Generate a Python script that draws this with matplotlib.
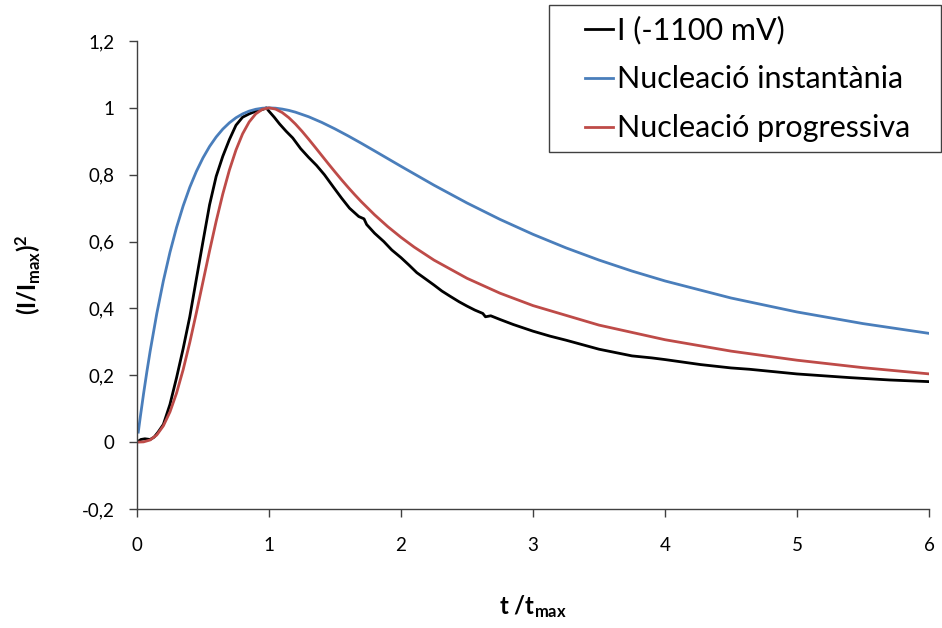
import matplotlib
matplotlib.use("Agg")
import matplotlib.pyplot as plt
from matplotlib.patches import Rectangle

# ---- data ----
t_exp = [0, 0.03, 0.06, 0.1, 0.13, 0.16, 0.2, 0.25, 0.3, 0.35, 0.4, 0.45, 0.5, 0.55,
         0.6, 0.65, 0.7, 0.75, 0.8, 0.85, 0.9, 0.95, 0.98, 1.0, 1.04, 1.08, 1.13,
         1.18, 1.24, 1.3, 1.36, 1.42, 1.49, 1.55, 1.61, 1.68, 1.72, 1.74, 1.8, 1.87,
         1.93, 2.0, 2.06, 2.12, 2.18, 2.25, 2.31, 2.37, 2.44, 2.5, 2.56, 2.62, 2.64,
         2.68, 2.75, 2.85, 3.0, 3.13, 3.25, 3.5, 3.75, 3.9, 4.0, 4.27, 4.5, 4.64,
         5.0, 5.4, 5.7, 6.0]
i_exp = [0.0, 0.008, 0.01, 0.008, 0.015, 0.03, 0.053, 0.113, 0.193, 0.28, 0.375,
         0.488, 0.60, 0.71, 0.795, 0.855, 0.905, 0.948, 0.972, 0.982, 0.99, 0.995,
         1.0, 0.99, 0.972, 0.952, 0.93, 0.91, 0.878, 0.852, 0.828, 0.80, 0.762,
         0.73, 0.70, 0.675, 0.668, 0.651, 0.625, 0.60, 0.575, 0.552, 0.53, 0.507,
         0.49, 0.47, 0.452, 0.437, 0.42, 0.407, 0.395, 0.385, 0.375, 0.378, 0.367,
         0.352, 0.332, 0.317, 0.305, 0.278, 0.258, 0.252, 0.247, 0.232, 0.222,
         0.218, 0.204, 0.193, 0.186, 0.181]

t_inst = [0.01, 0.025, 0.05, 0.075, 0.1, 0.15, 0.2, 0.25, 0.3, 0.35, 0.4, 0.45, 0.5,
          0.55, 0.6, 0.65, 0.7, 0.75, 0.8, 0.85, 0.9, 0.95, 1.0, 1.05, 1.1, 1.15,
          1.2, 1.3, 1.4, 1.5, 1.6, 1.7, 1.8, 1.9, 2.0, 2.25, 2.5, 2.75, 3.0, 3.25,
          3.5, 3.75, 4.0, 4.5, 5.0, 5.5, 6.0]
i_inst = [0.030, 0.0747, 0.1449, 0.2107, 0.2724, 0.3844, 0.4825, 0.5680, 0.6423,
          0.7068, 0.7624, 0.8099, 0.8503, 0.8845, 0.9129, 0.9364, 0.9553, 0.9704,
          0.9819, 0.9903, 0.9958, 0.9990, 1.0, 0.9991, 0.9964, 0.9925, 0.9872,
          0.9735, 0.9565, 0.9371, 0.9161, 0.8940, 0.8712, 0.8482, 0.8252, 0.7687,
          0.7155, 0.6664, 0.6217, 0.5812, 0.5447, 0.5118, 0.4822, 0.4312, 0.3894,
          0.3546, 0.3254]

t_prog = [0, 0.05, 0.1, 0.15, 0.2, 0.25, 0.3, 0.35, 0.4, 0.45, 0.5, 0.55, 0.6, 0.65,
          0.7, 0.75, 0.8, 0.85, 0.9, 0.95, 1.0, 1.05, 1.1, 1.15, 1.2, 1.25, 1.3,
          1.35, 1.4, 1.45, 1.5, 1.55, 1.6, 1.65, 1.7, 1.8, 1.9, 2.0, 2.1, 2.25, 2.5,
          2.75, 3.0, 3.5, 4.0, 4.5, 5.0, 5.5, 6.0]
i_prog = [0.0, 0.0008, 0.0065, 0.0214, 0.0488, 0.0905, 0.1469, 0.2170, 0.2981,
          0.3870, 0.4797, 0.5723, 0.6608, 0.7421, 0.8137, 0.8739, 0.9222, 0.9579,
          0.9822, 0.9957, 1.0, 0.9963, 0.9861, 0.9708, 0.9518, 0.9301, 0.9066,
          0.8822, 0.8574, 0.8327, 0.8085, 0.7848, 0.7620, 0.7401, 0.7191, 0.6801,
          0.6447, 0.6127, 0.5835, 0.5446, 0.4902, 0.4456, 0.4085, 0.3501, 0.3064,
          0.2723, 0.2451, 0.2228, 0.2042]

labels = ["I (-1100 mV)", "Nucleació instantània", "Nucleació progressiva"]
x_ticks = [0, 1, 2, 3, 4, 5, 6]
y_ticks = [-0.2, 0, 0.2, 0.4, 0.6, 0.8, 1.0, 1.2]
y_ticklabels = ["-0,2", "0", "0,2", "0,4", "0,6", "0,8", "1", "1,2"]

# ---- style ----
plt.rcParams['font.family'] = ['Lato', 'DejaVu Sans']
plt.rcParams['mathtext.fontset'] = 'custom'
plt.rcParams['mathtext.rm'] = 'Lato'
plt.rcParams['mathtext.bf'] = 'Lato:bold'
plt.rcParams['mathtext.it'] = 'Lato:italic'

W, H = 942, 628
fig = plt.figure(figsize=(W / 100, H / 100), dpi=100)
ax = fig.add_axes([0.1454, 0.1895, 0.8408, 0.7452])

ax.plot(t_exp, i_exp, color='black', lw=2.0, label=labels[0])
ax.plot(t_inst, i_inst, color='#4A7EBB', lw=2.0, label=labels[1])
ax.plot(t_prog, i_prog, color='#BE4B48', lw=2.0, label=labels[2])

ax.set_xlim(0, 6)
ax.set_ylim(-0.2, 1.2)
ax.set_xticks(x_ticks)
ax.set_xticklabels([str(v) for v in x_ticks])
ax.set_yticks(y_ticks)
ax.set_yticklabels(y_ticklabels)

for s in ['top', 'right']:
    ax.spines[s].set_visible(False)
for s in ['left', 'bottom']:
    ax.spines[s].set_color('#404040')
    ax.spines[s].set_linewidth(1.0)
ax.tick_params(axis='both', direction='out', length=6, width=1.0, color='#404040',
               labelsize=13.5, pad=10)
ax.tick_params(axis='x', pad=14)

ax.set_xlabel(r'$\mathbf{t\ /t_{max}}$', fontsize=17, labelpad=28)
ax.set_ylabel(r'$\mathbf{(I/I_{max})^2}$', fontsize=17, labelpad=28)

# legend box (frame drawn separately, Excel-style padding)
fig.patches.append(Rectangle((549 / W, 1 - 152 / H), (941 - 549) / W, (152 - 5) / H,
                             transform=fig.transFigure, fill=True, facecolor='white',
                             edgecolor='#404040', linewidth=1.0, zorder=5))
leg = fig.legend(loc='upper left', bbox_to_anchor=(585 / W, 1 - 16 / H),
                 bbox_transform=fig.transFigure,
                 fontsize=22, frameon=False, handlelength=0.92,
                 handletextpad=0.12, borderpad=0.0, labelspacing=0.68,
                 borderaxespad=0.0)
leg.set_zorder(6)

fig.savefig('out.png', dpi=100)
